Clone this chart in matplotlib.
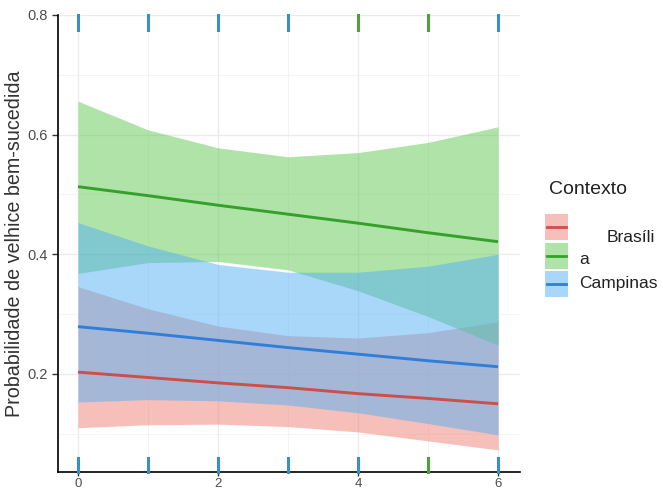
import numpy as np
import matplotlib as mpl
import matplotlib.pyplot as plt
from matplotlib.patches import Rectangle
from matplotlib.lines import Line2D

mpl.rcParams.update({
    "font.family": ["Liberation Sans", "DejaVu Sans"],
    "axes.linewidth": 1.2,
})

# fitted curves and 95% bands, read at x = 0..6
anos = [0, 1, 2, 3, 4, 5, 6]

brasilia_fit = [0.203, 0.194, 0.185, 0.177, 0.167, 0.159, 0.150]
brasilia_low = [0.110, 0.115, 0.116, 0.112, 0.103, 0.088, 0.073]
brasilia_high = [0.346, 0.309, 0.280, 0.264, 0.260, 0.269, 0.287]

verde_fit = [0.513, 0.498, 0.482, 0.467, 0.452, 0.436, 0.421]
verde_low = [0.368, 0.386, 0.388, 0.374, 0.339, 0.296, 0.248]
verde_high = [0.656, 0.608, 0.578, 0.563, 0.570, 0.587, 0.613]

campinas_fit = [0.279, 0.268, 0.256, 0.244, 0.233, 0.222, 0.212]
campinas_low = [0.153, 0.157, 0.155, 0.148, 0.135, 0.117, 0.098]
campinas_high = [0.453, 0.414, 0.383, 0.370, 0.370, 0.380, 0.400]

# rug of observed values (top: y = 1, bottom: y = 0)
rug_top_x = [0, 1, 2, 3, 4, 5, 6]
rug_top_grupo = ["c", "c", "c", "c", "v", "v", "c"]
rug_bottom_x = [0, 1, 2, 3, 4, 5, 6]
rug_bottom_grupo = ["c", "c", "c", "c", "c", "v", "c"]

legend_labels = ["Brasíli", "a", "Campinas"]

fill_colors = ["#F18175", "#61C951", "#55B1F5"]
line_colors = ["#CC4F4A", "#35A02A", "#2F7FD8"]
rug_colors = {"c": "#3A8FC4", "v": "#4FA03F"}

fig = plt.figure(figsize=(6.63, 4.90), dpi=100)
ax = fig.add_axes([58 / 663, 1 - 472 / 490, 462 / 663, 457 / 490])

series = [
    (brasilia_fit, brasilia_low, brasilia_high),
    (verde_fit, verde_low, verde_high),
    (campinas_fit, campinas_low, campinas_high),
]
for (fit, low, high), fc in zip(series, fill_colors):
    ax.fill_between(anos, low, high, color=fc, alpha=0.5, lw=0, zorder=2)
for (fit, low, high), lc in zip(series, line_colors):
    ax.plot(anos, fit, color=lc, lw=2.1, zorder=3, solid_capstyle="butt")

xform = ax.get_xaxis_transform()
for x, g in zip(rug_top_x, rug_top_grupo):
    ax.plot([x, x], [0.967, 1.0], color=rug_colors[g], lw=2.2,
            transform=xform, zorder=4, clip_on=False)
for x, g in zip(rug_bottom_x, rug_bottom_grupo):
    ax.plot([x, x], [0.0, 0.031], color=rug_colors[g], lw=2.2,
            transform=xform, zorder=4, clip_on=False)

ax.set_xlim(-0.286, 6.314)
ax.set_ylim(0.036, 0.8)
ax.set_xticks([0, 2, 4, 6])
ax.set_xticks([1, 3, 5], minor=True)
ax.set_yticks([0.2, 0.4, 0.6, 0.8])
ax.set_yticks([0.1, 0.3, 0.5, 0.7], minor=True)
ax.set_yticklabels(["0.2", "0.4", "0.6", "0.8"])
ax.grid(True, which="major", color="#EBEBEB", lw=1.0, zorder=0)
ax.grid(True, which="minor", color="#F2F2F2", lw=0.6, zorder=0)
ax.set_axisbelow(True)
ax.tick_params(axis="both", which="major", colors="#333333", labelcolor="#4D4D4D",
               labelsize=10.5, length=4, width=1)
ax.tick_params(axis="x", which="major", labelsize=9.5, length=3, pad=1)
ax.tick_params(axis="both", which="minor", length=0)
ax.spines["top"].set_visible(False)
ax.spines["right"].set_visible(False)
ax.set_ylabel("Probabilidade de velhice bem-sucedida", fontsize=14.2,
              color="#333333", labelpad=2)

# legend drawn in figure pixels
def px(x, y):
    return x / 663, 1 - y / 490

fig.text(*px(549, 190), "Contexto", fontsize=14, color="#222222",
         va="center", ha="left")
key_y = [227, 256, 284]
for y, fc, lc in zip(key_y, fill_colors, line_colors):
    x0, y0 = px(545, y + 13)
    fig.add_artist(Rectangle((x0, y0), 23 / 663, 26 / 490, facecolor=fc,
                             alpha=0.5, lw=0, transform=fig.transFigure))
    xa, ya = px(547, y)
    xb, _ = px(566, y)
    fig.add_artist(Line2D([xa, xb], [ya, ya], color=lc, lw=2.0,
                          transform=fig.transFigure))
fig.text(*px(607, 237), legend_labels[0], fontsize=12.5, color="#222222",
         va="center", ha="left")
fig.text(*px(579, 259), legend_labels[1], fontsize=12.5, color="#222222",
         va="center", ha="left")
fig.text(*px(579, 283), legend_labels[2], fontsize=12.5, color="#222222",
         va="center", ha="left")

fig.savefig("out.png", dpi=100)
